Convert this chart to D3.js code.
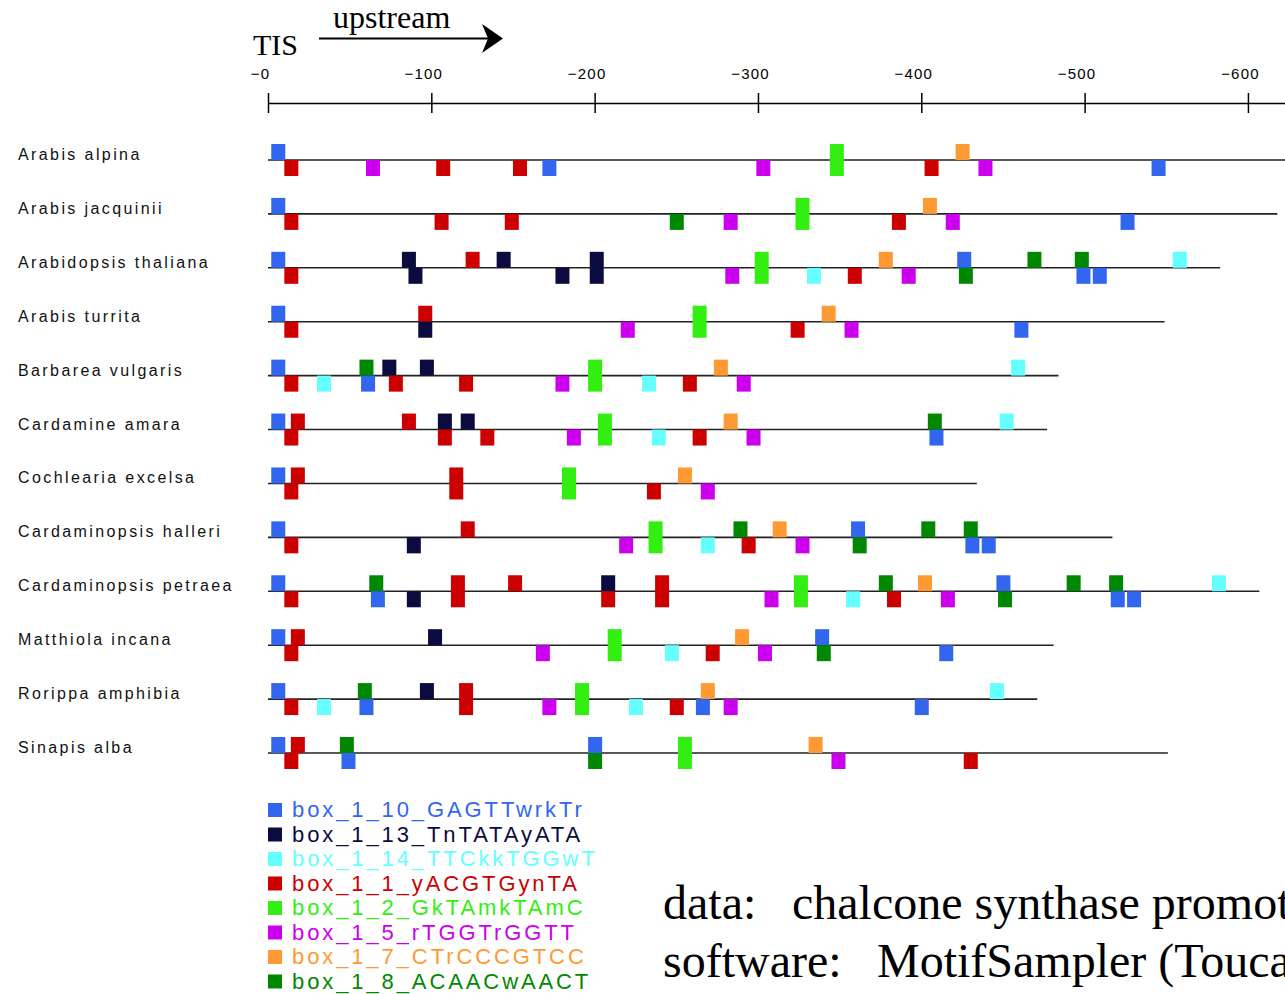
<!DOCTYPE html>
<html>
<head>
<meta charset="utf-8">
<script src="https://cdn.jsdelivr.net/npm/d3@7"></script>
<style>
body { margin: 0; background: #fff; }
svg { display: block; }
</style>
</head>
<body>
<script>
var w = 1285, h = 994;

var species = ['Arabis alpina', 'Arabis jacquinii', 'Arabidopsis thaliana', 'Arabis turrita',
    'Barbarea vulgaris', 'Cardamine amara', 'Cochlearia excelsa', 'Cardaminopsis halleri',
    'Cardaminopsis petraea', 'Matthiola incana', 'Rorippa amphibia', 'Sinapis alba'];
var seqLength = [640, 618, 583, 549, 484, 477, 434, 517, 607, 481, 471, 551];

var motifIds = ['10', '13', '14', '1', '2', '5', '7', '8'];
var motifNames = ['box_1_10_GAGTTwrkTr', 'box_1_13_TnTATAyATA', 'box_1_14_TTCkkTGGwT', 'box_1_1_yACGTGynTA',
    'box_1_2_GkTAmkTAmC', 'box_1_5_rTGGTrGGTT', 'box_1_7_CTrCCCGTCC', 'box_1_8_ACAACwAACT'];
var motifColors = ['#3366ee', '#0b0b40', '#66ffff', '#cc0000', '#33ee11', '#cc00ee', '#ff9933', '#008800'];

var tickValues = [0, 100, 200, 300, 400, 500, 600];

// hits per species: [motif, bp upstream of TIS, strand (+ above, - below, b both)]
var hits = [
    [['10',2,'+'],['1',10,'-'],['5',60,'-'],['1',103,'-'],['1',150,'-'],['10',168,'-'],['5',299,'-'],
     ['2',344,'b'],['1',402,'-'],['7',421,'+'],['5',435,'-'],['10',541,'-']],
    [['10',2,'+'],['1',10,'-'],['1',102,'-'],['1',145,'-'],['8',246,'-'],['5',279,'-'],['2',323,'b'],
     ['1',382,'-'],['7',401,'+'],['5',415,'-'],['10',522,'-']],
    [['10',2,'+'],['1',10,'-'],['13',82,'+'],['13',86,'-'],['1',121,'+'],['13',140,'+'],['13',176,'-'],
     ['13',197,'b'],['5',280,'-'],['2',298,'b'],['14',330,'-'],['1',355,'-'],['7',374,'+'],['5',388,'-'],
     ['10',422,'+'],['8',423,'-'],['8',465,'+'],['8',494,'+'],['10',495,'-'],['10',505,'-'],['14',554,'+']],
    [['10',2,'+'],['1',10,'-'],['1',92,'+'],['13',92,'-'],['5',216,'-'],['2',260,'b'],['1',320,'-'],
     ['7',339,'+'],['5',353,'-'],['10',457,'-']],
    [['10',2,'+'],['1',10,'-'],['14',30,'-'],['8',56,'+'],['10',57,'-'],['13',70,'+'],['1',74,'-'],
     ['13',93,'+'],['1',117,'-'],['5',176,'-'],['2',196,'b'],['14',229,'-'],['1',254,'-'],['7',273,'+'],
     ['5',287,'-'],['14',455,'+']],
    [['10',2,'+'],['1',14,'+'],['1',10,'-'],['1',82,'+'],['13',104,'+'],['1',104,'-'],['13',118,'+'],
     ['1',130,'-'],['5',183,'-'],['2',202,'b'],['14',235,'-'],['1',260,'-'],['7',279,'+'],['5',293,'-'],
     ['8',404,'+'],['10',405,'-'],['14',448,'+']],
    [['10',2,'+'],['1',14,'+'],['1',10,'-'],['1',111,'b'],['2',180,'b'],['1',232,'-'],['7',251,'+'],
     ['5',265,'-']],
    [['10',2,'+'],['1',10,'-'],['13',85,'-'],['1',118,'+'],['5',215,'-'],['2',233,'b'],['14',265,'-'],
     ['8',285,'+'],['1',290,'-'],['7',309,'+'],['5',323,'-'],['10',357,'+'],['8',358,'-'],['8',400,'+'],
     ['8',426,'+'],['10',427,'-'],['10',437,'-']],
    [['10',2,'+'],['1',10,'-'],['8',62,'+'],['10',63,'-'],['13',85,'-'],['1',112,'b'],['1',147,'+'],
     ['13',204,'+'],['1',204,'-'],['1',237,'b'],['5',304,'-'],['2',322,'b'],['14',354,'-'],['8',374,'+'],
     ['1',379,'-'],['7',398,'+'],['5',412,'-'],['10',446,'+'],['8',447,'-'],['8',489,'+'],['8',515,'+'],
     ['10',516,'-'],['10',526,'-'],['14',578,'+']],
    [['10',2,'+'],['1',14,'+'],['1',10,'-'],['13',98,'+'],['5',164,'-'],['2',208,'b'],['14',243,'-'],
     ['1',268,'-'],['7',286,'+'],['5',300,'-'],['10',335,'+'],['8',336,'-'],['10',411,'-']],
    [['10',2,'+'],['1',10,'-'],['14',30,'-'],['8',55,'+'],['10',56,'-'],['13',93,'+'],['1',117,'b'],
     ['5',168,'-'],['2',188,'b'],['14',221,'-'],['1',246,'-'],['7',265,'+'],['10',262,'-'],['5',279,'-'],
     ['10',396,'-'],['14',442,'+']],
    [['10',2,'+'],['1',14,'+'],['1',10,'-'],['8',44,'+'],['10',45,'-'],['10',196,'+'],['8',196,'-'],
     ['2',251,'b'],['7',331,'+'],['5',345,'-'],['1',426,'-']]
];

var x = d3.scaleLinear().domain([0, 623]).range([268, 1285.5]);
var y = d3.scaleLinear().domain([0, species.length - 1]).range([160, 753]);
var color = d3.scaleOrdinal().domain(motifIds).range(motifColors);
var boxW = 14, half = 16;

var svg = d3.select('body').append('svg')
    .attr('width', w)
    .attr('height', h);

// header
svg.append('text')
    .attr('x', 253).attr('y', 55)
    .attr('font-family', 'Liberation Serif, Times New Roman, serif')
    .attr('font-size', 30)
    .text('TIS');
svg.append('text')
    .attr('x', 333).attr('y', 28)
    .attr('font-family', 'Liberation Serif, Times New Roman, serif')
    .attr('font-size', 32)
    .text('upstream');
svg.append('line')
    .attr('x1', 319).attr('x2', 488).attr('y1', 38.5).attr('y2', 38.5)
    .attr('stroke', '#000').attr('stroke-width', 2);
svg.append('path')
    .attr('d', 'M482,24 L503,38.5 L482,53 L488,38.5 Z')
    .attr('fill', '#000');

// axis
var axis = d3.axisTop(x)
    .tickValues(tickValues)
    .tickSize(10)
    .tickSizeOuter(0)
    .tickPadding(14)
    .tickFormat(d => '\u2212' + d);

var gAxis = svg.append('g')
    .attr('transform', 'translate(0,103)')
    .call(axis);
gAxis.select('.domain').attr('stroke', '#000').attr('stroke-width', 1.5);
gAxis.selectAll('.tick line').attr('y2', 10).attr('y1', -10).attr('stroke', '#000').attr('stroke-width', 1.5);
gAxis.selectAll('.tick text')
    .attr('x', -8)
    .attr('font-family', 'Liberation Sans, Arial, sans-serif')
    .attr('font-size', 15)
    .attr('letter-spacing', 1.2)
    .attr('fill', '#000');

// species rows
var rows = svg.selectAll('g.row')
    .data(species)
    .enter()
    .append('g')
    .attr('class', 'row')
    .attr('transform', (d, i) => 'translate(0,' + y(i) + ')');

rows.append('text')
    .attr('x', 18)
    .attr('y', 0)
    .attr('font-family', 'Liberation Sans, Arial, sans-serif')
    .attr('font-size', 16)
    .attr('letter-spacing', 2.4)
    .attr('fill', '#111')
    .text(d => d);

rows.append('line')
    .attr('x1', x(0))
    .attr('x2', (d, i) => x(seqLength[i]))
    .attr('stroke', '#222')
    .attr('stroke-width', 1.6);

rows.selectAll('rect')
    .data((d, i) => hits[i])
    .enter()
    .append('rect')
    .attr('x', d => x(d[1]))
    .attr('y', d => d[2] === '-' ? 0 : -half)
    .attr('width', boxW)
    .attr('height', d => d[2] === 'b' ? 2 * half : half)
    .attr('fill', d => color(d[0]));

// legend
var legend = svg.selectAll('g.legend')
    .data(motifIds)
    .enter()
    .append('g')
    .attr('class', 'legend')
    .attr('transform', (d, i) => 'translate(268,' + (817 + i * 24.5) + ')');

legend.append('rect')
    .attr('x', 0).attr('y', -14)
    .attr('width', 14).attr('height', 14)
    .attr('fill', d => color(d));

legend.append('text')
    .attr('x', 24)
    .attr('y', 0)
    .attr('font-family', 'Liberation Sans, Arial, sans-serif')
    .attr('font-size', 22)
    .attr('letter-spacing', 2.9)
    .attr('fill', d => color(d))
    .text((d, i) => motifNames[i]);

// notes (run off the right edge as in the original slide)
var notes = [['data:', 'chalcone synthase promoter', 792, 919], ['software:', 'MotifSampler (Toucan)', 877, 977]];
notes.forEach(n => {
    svg.append('text')
        .attr('x', 663).attr('y', n[3])
        .attr('font-family', 'Liberation Serif, Times New Roman, serif')
        .attr('font-size', 48)
        .text(n[0]);
    svg.append('text')
        .attr('x', n[2]).attr('y', n[3])
        .attr('font-family', 'Liberation Serif, Times New Roman, serif')
        .attr('font-size', 48)
        .text(n[1]);
});
</script>
</body>
</html>
